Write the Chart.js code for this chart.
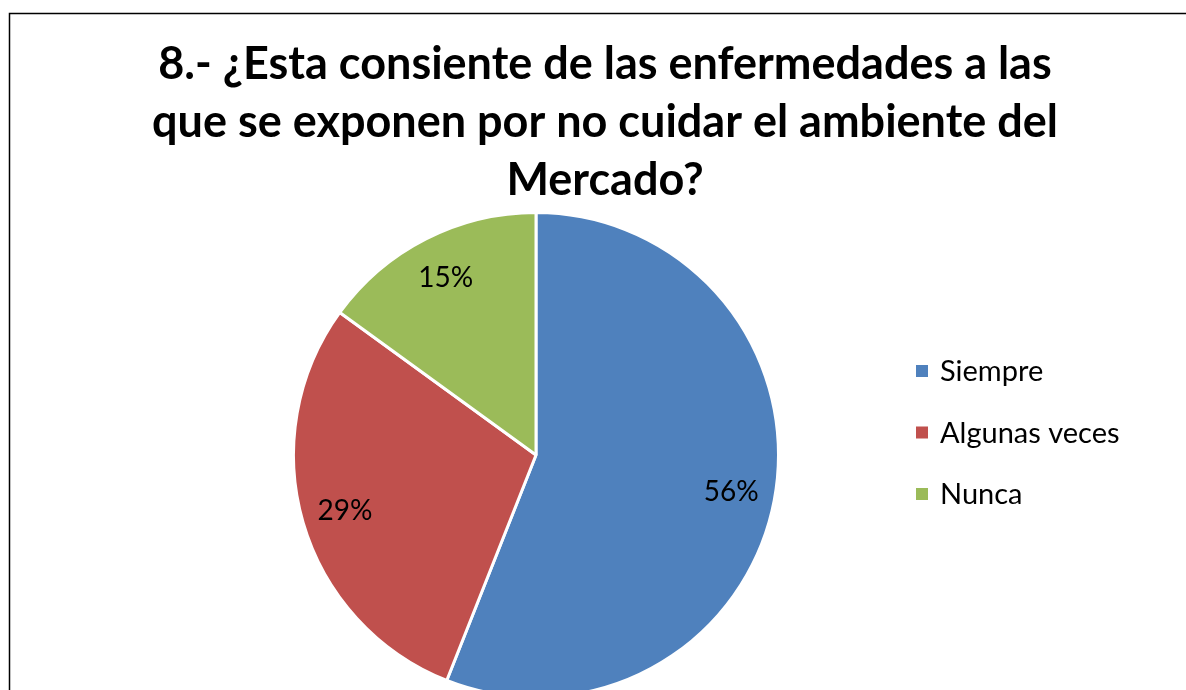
<!DOCTYPE html>
<html>
<head>
<meta charset="utf-8">
<script src="https://cdn.jsdelivr.net/npm/chart.js@4.4.1/dist/chart.umd.min.js"></script>
<style>
  html, body { margin: 0; padding: 0; background: #fff; overflow: hidden; }
  #wrap { position: relative; width: 1186px; height: 760px; }
</style>
</head>
<body>
<div id="wrap"><canvas id="c" width="1186" height="760"></canvas></div>
<script>
const titleLines = [
  "8.- ¿Esta consiente de las enfermedades a las",
  "que se exponen por no cuidar el ambiente del",
  "Mercado?"
];
const categories = ["Siempre", "Algunas veces", "Nunca"];
const values = [56, 29, 15];
const sliceLabels = ["56%", "29%", "15%"];
const colors = ["#4F81BD", "#C0504D", "#9BBB59"];

const FONT = "Lato, 'Open Sans', 'Noto Sans', sans-serif";

function fitFont(ctx, text, weight, targetW, maxSize) {
  let s = maxSize;
  for (; s > 6; s -= 0.5) {
    ctx.font = weight + " " + s + "px " + FONT;
    if (ctx.measureText(text).width <= targetW) break;
  }
  return s;
}

const framePlugin = {
  id: 'frame',
  beforeDraw(chart) {
    const ctx = chart.ctx;
    ctx.save();
    ctx.fillStyle = '#fff';
    ctx.fillRect(0, 0, chart.width, chart.height);
    ctx.strokeStyle = '#000';
    ctx.lineWidth = 1.5;
    ctx.beginPath();
    ctx.moveTo(9.5, chart.height + 5);
    ctx.lineTo(9.5, 13.5);
    ctx.lineTo(chart.width + 5, 13.5);
    ctx.stroke();
    ctx.restore();
  },
  afterDraw(chart) {
    const ctx = chart.ctx;
    ctx.save();
    // title
    const ts = fitFont(ctx, titleLines[0], 'bold', 894, 52);
    ctx.font = 'bold ' + ts + 'px ' + FONT;
    ctx.fillStyle = '#000';
    ctx.textAlign = 'center';
    ctx.textBaseline = 'alphabetic';
    const baselines = [79, 137, 195];
    titleLines.forEach((t, i) => ctx.fillText(t, 605, baselines[i]));

    // slice labels
    const meta = chart.getDatasetMeta(0);
    const ls = fitFont(ctx, "56%", 'normal', 55, 32);
    ctx.font = 'normal ' + ls + 'px ' + FONT;
    ctx.textBaseline = 'middle';
    meta.data.forEach((arc, i) => {
      const p = arc.getProps(['x', 'y', 'startAngle', 'endAngle', 'outerRadius'], true);
      const mid = (p.startAngle + p.endAngle) / 2;
      const r = p.outerRadius * 0.82;
      ctx.fillText(sliceLabels[i], p.x + Math.cos(mid) * r, p.y + Math.sin(mid) * r);
    });

    // legend
    const gs = fitFont(ctx, "Algunas veces", 'normal', 180, 30);
    ctx.font = 'normal ' + gs + 'px ' + FONT;
    ctx.textAlign = 'left';
    const rowY = [371, 432.5, 494];
    categories.forEach((c, i) => {
      ctx.fillStyle = colors[i];
      ctx.fillRect(916, rowY[i] - 6, 12, 12);
      ctx.fillStyle = '#000';
      ctx.fillText(c, 940, rowY[i] + 1);
    });
    ctx.restore();
  }
};

new Chart(document.getElementById('c'), {
  type: 'pie',
  data: {
    labels: categories,
    datasets: [{
      data: values,
      backgroundColor: colors,
      borderColor: '#fff',
      borderWidth: 3
    }]
  },
  options: {
    responsive: false,
    animation: false,
    layout: { padding: { top: 211, left: 292, right: 406, bottom: 61 } },
    plugins: {
      legend: { display: false },
      title: { display: false },
      tooltip: { enabled: false }
    }
  },
  plugins: [framePlugin]
});
</script>
</body>
</html>
